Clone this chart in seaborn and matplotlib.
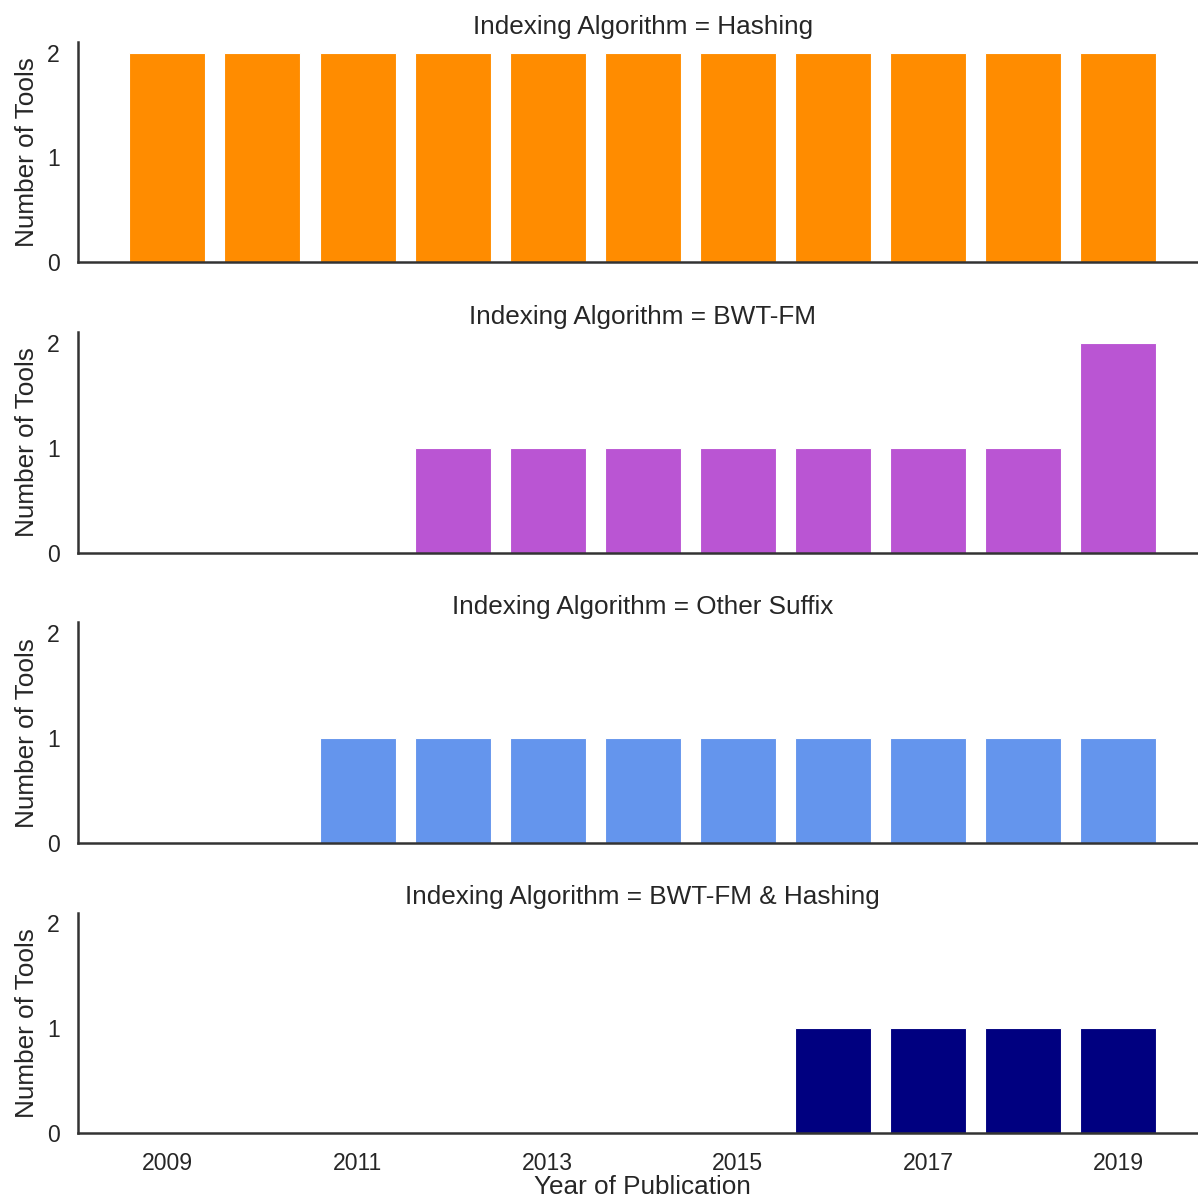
import matplotlib
matplotlib.use("Agg")
import matplotlib.pyplot as plt
import seaborn as sns
import pandas as pd

# Publication counts per indexing algorithm
years_hashing = [2009, 2010, 2011, 2012, 2013, 2014, 2015, 2016, 2017, 2018, 2019]
counts_hashing = [2, 2, 2, 2, 2, 2, 2, 2, 2, 2, 2]

years_bwtfm = [2012, 2013, 2014, 2015, 2016, 2017, 2018, 2019]
counts_bwtfm = [1, 1, 1, 1, 1, 1, 1, 2]

years_suffix = [2011, 2012, 2013, 2014, 2015, 2016, 2017, 2018, 2019]
counts_suffix = [1, 1, 1, 1, 1, 1, 1, 1, 1]

years_both = [2016, 2017, 2018, 2019]
counts_both = [1, 1, 1, 1]

algorithms = ["Hashing", "BWT-FM", "Other Suffix", "BWT-FM & Hashing"]
colors = ["darkorange", "mediumorchid", "cornflowerblue", "navy"]
xtick_years = [2009, 2011, 2013, 2015, 2017, 2019]

frames = []
for name, yrs, cnt in zip(algorithms,
                          [years_hashing, years_bwtfm, years_suffix, years_both],
                          [counts_hashing, counts_bwtfm, counts_suffix, counts_both]):
    frames.append(pd.DataFrame({"Indexing Algorithm": name,
                                "Year of Publication": yrs,
                                "Number of Tools": cnt}))
df = pd.concat(frames, ignore_index=True)

sns.set_theme(style="white")
plt.rcParams["font.family"] = ["Liberation Sans", "DejaVu Sans"]
plt.rcParams["text.color"] = ".15"
plt.rcParams["axes.labelcolor"] = ".15"
plt.rcParams["xtick.color"] = ".15"
plt.rcParams["ytick.color"] = ".15"

g = sns.FacetGrid(df, row="Indexing Algorithm", hue="Indexing Algorithm",
                  row_order=algorithms, hue_order=algorithms,
                  palette=colors, sharex=True, sharey=True)
g.map(plt.bar, "Year of Publication", "Number of Tools",
      width=0.8, edgecolor="white", linewidth=0.8)
g.figure.set_size_inches(11.98, 12.02)
g.figure.subplots_adjust(left=0.0651, right=1.008, top=0.965,
                         bottom=0.0574, hspace=0.317)
g.set(xticks=xtick_years, yticks=[0, 1, 2])
g.set_titles(row_template="Indexing Algorithm = {row_name}", size=18.8)

for ax in g.axes.flat:
    ax.set_ylabel("Number of Tools", fontsize=18.8, labelpad=6)
    ax.tick_params(labelsize=16.6, length=0, pad=13)
    ax.tick_params(axis="x", pad=14)
    for side in ("left", "bottom"):
        ax.spines[side].set_linewidth(1.8)
        ax.spines[side].set_color(".2")
g.axes.flat[-1].set_xlabel("Year of Publication", fontsize=18.8, labelpad=0)
sns.despine(fig=g.figure)

g.figure.savefig("out.png", dpi=100)
